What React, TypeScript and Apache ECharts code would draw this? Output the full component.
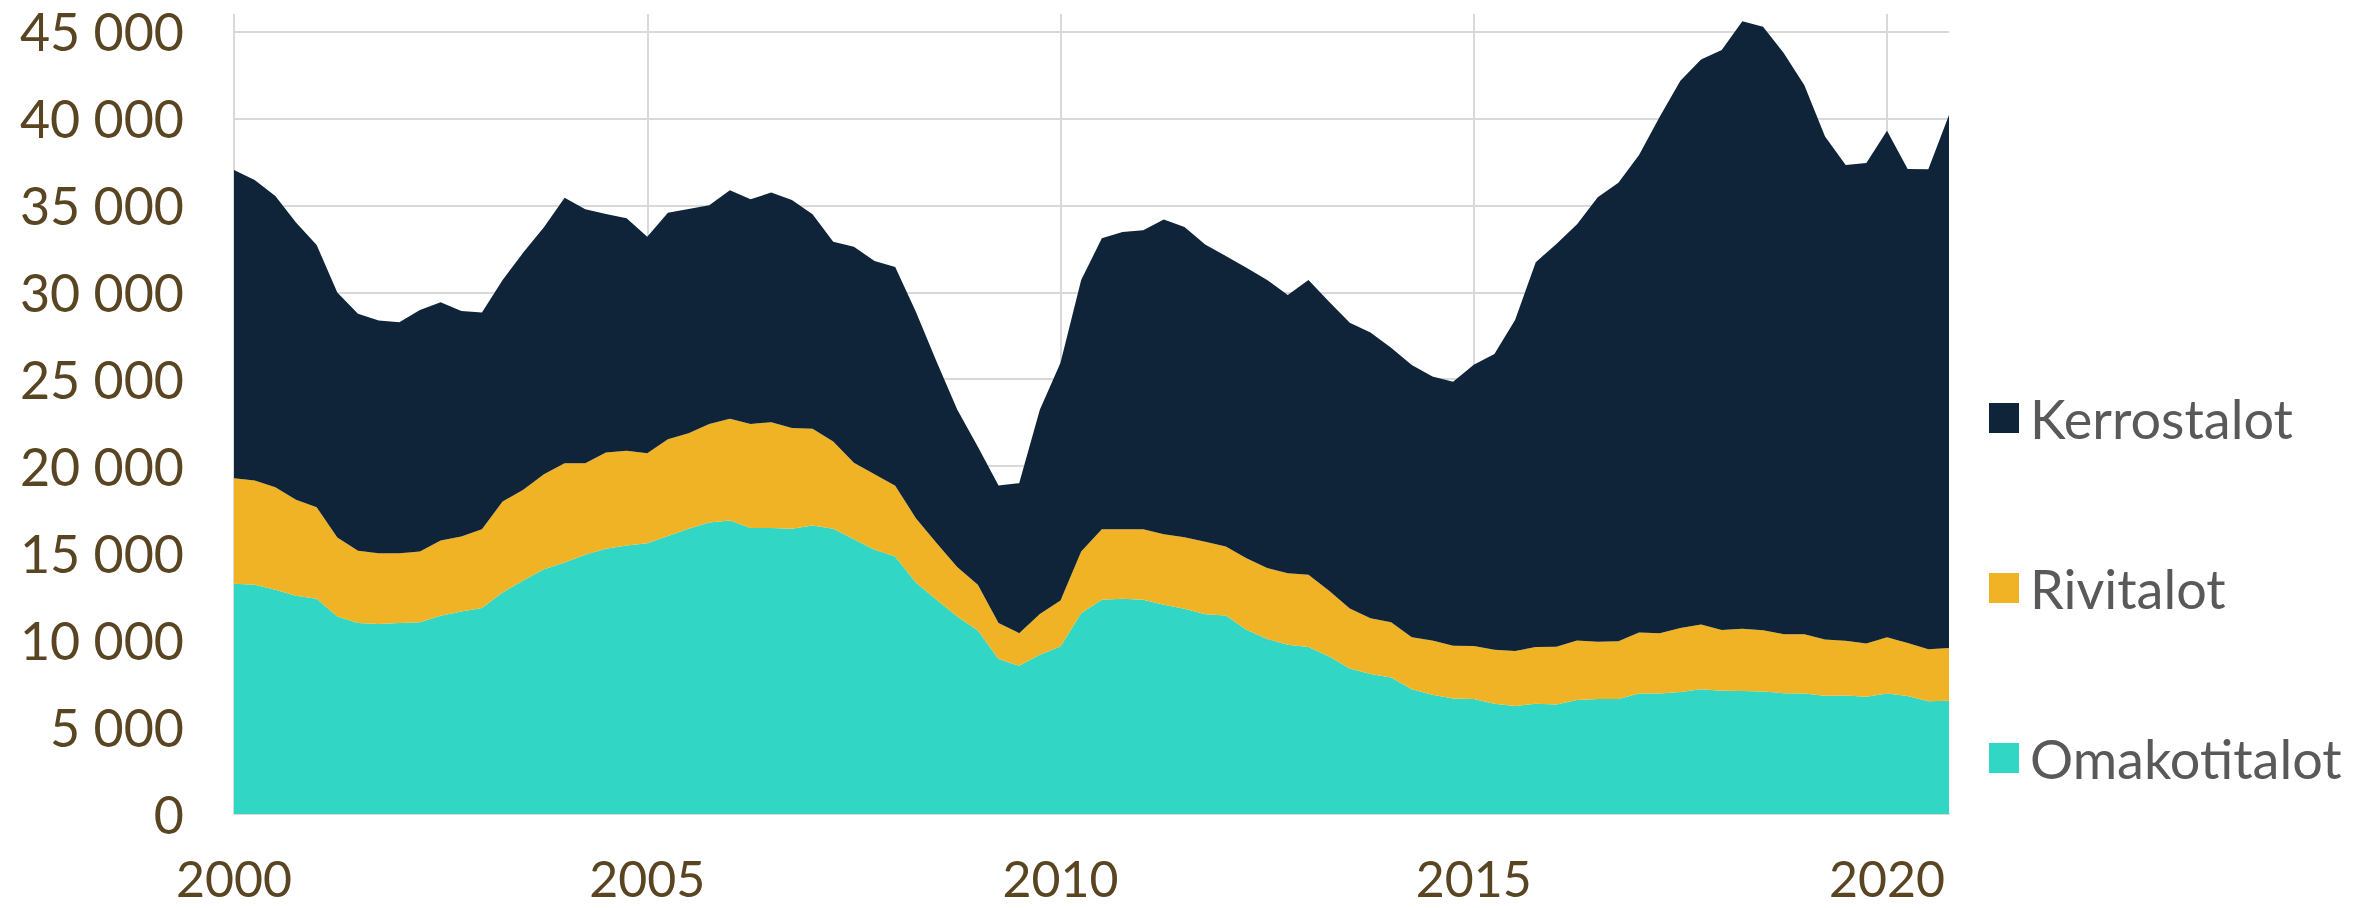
import React, { useEffect, useRef } from "react";
import * as echarts from "echarts";

const quarters: string[] = [
  "2000Q1","2000Q2","2000Q3","2000Q4","2001Q1","2001Q2","2001Q3","2001Q4",
  "2002Q1","2002Q2","2002Q3","2002Q4","2003Q1","2003Q2","2003Q3","2003Q4",
  "2004Q1","2004Q2","2004Q3","2004Q4","2005Q1","2005Q2","2005Q3","2005Q4",
  "2006Q1","2006Q2","2006Q3","2006Q4","2007Q1","2007Q2","2007Q3","2007Q4",
  "2008Q1","2008Q2","2008Q3","2008Q4","2009Q1","2009Q2","2009Q3","2009Q4",
  "2010Q1","2010Q2","2010Q3","2010Q4","2011Q1","2011Q2","2011Q3","2011Q4",
  "2012Q1","2012Q2","2012Q3","2012Q4","2013Q1","2013Q2","2013Q3","2013Q4",
  "2014Q1","2014Q2","2014Q3","2014Q4","2015Q1","2015Q2","2015Q3","2015Q4",
  "2016Q1","2016Q2","2016Q3","2016Q4","2017Q1","2017Q2","2017Q3","2017Q4",
  "2018Q1","2018Q2","2018Q3","2018Q4","2019Q1","2019Q2","2019Q3","2019Q4",
  "2020Q1","2020Q2","2020Q3","2020Q4",
];

const omakotitalot: number[] = [
  13240, 13180, 12890, 12550, 12370, 11360, 10980, 10920, 10980, 11030, 11400, 11640,
  11840, 12740, 13430, 14080, 14460, 14900, 15250, 15440, 15570, 15990, 16400, 16760,
  16870, 16440, 16440, 16400, 16590, 16400, 15800, 15190, 14800, 13310, 12320, 11360,
  10550, 8910, 8520, 9160, 9630, 11550, 12320, 12370, 12320, 12030, 11800, 11490,
  11410, 10590, 10060, 9730, 9600, 9060, 8360, 8050, 7850, 7180, 6860, 6640,
  6610, 6340, 6210, 6340, 6300, 6550, 6610, 6610, 6930, 6930, 7010, 7180,
  7090, 7070, 7050, 6950, 6930, 6800, 6820, 6740, 6930, 6780, 6490, 6510,
];

const rivitalot: number[] = [
  6070, 5990, 5900, 5520, 5270, 4540, 4160, 4080, 4020, 4060, 4330, 4310,
  4540, 5230, 5210, 5460, 5710, 5270, 5530, 5440, 5170, 5560, 5500, 5660,
  5850, 5990, 6090, 5790, 5560, 5020, 4400, 4350, 4080, 3700, 3260, 2840,
  2630, 2070, 1880, 2340, 2640, 3540, 4060, 4010, 4060, 4060, 4120, 4170,
  3970, 4120, 4080, 4120, 4160, 3780, 3450, 3200, 3180, 2990, 3120, 3030,
  3050, 3100, 3160, 3260, 3320, 3430, 3290, 3330, 3510, 3470, 3680, 3710,
  3490, 3580, 3510, 3390, 3410, 3240, 3140, 3060, 3240, 3050, 2990, 3030,
];

const kerrostalot: number[] = [
  17720, 17280, 16740, 15940, 15080, 14080, 13620, 13370, 13280, 13890, 13700, 12970,
  12450, 12740, 13640, 14200, 15260, 14600, 13720, 13370, 12450, 13020, 12890, 12590,
  13140, 12920, 13200, 13120, 12340, 11490, 12410, 12260, 12570, 11870, 10440, 9060,
  7930, 7910, 8620, 11740, 13680, 15610, 16720, 17090, 17180, 18100, 17830, 17090,
  16710, 16700, 16570, 15990, 16950, 16610, 16430, 16440, 15780, 15650, 15170, 15190,
  16170, 17010, 19040, 22130, 23160, 23930, 25560, 26360, 27450, 29690, 31470, 32490,
  33350, 34940, 34710, 33420, 31570, 28910, 27360, 27630, 29120, 27260, 27600, 30650,
];

const seriesNames: string[] = ["Omakotitalot", "Rivitalot", "Kerrostalot"];
const legendOrder: string[] = ["Kerrostalot", "Rivitalot", "Omakotitalot"];
const seriesColors: string[] = ["#31D6C4", "#F0B325", "#0F2438"];

const FONT = "Lato, 'Open Sans', sans-serif";
const LABEL_COLOR = "#5A4522";

function fmt(v: number): string {
  return String(v).replace(/\B(?=(\d{3})+(?!\d))/g, " ");
}

export default function App() {
  const ref = useRef<HTMLDivElement | null>(null);

  useEffect(() => {
    document.body.style.margin = "0";
    if (!ref.current) return;
    const chart = echarts.init(ref.current, null, { renderer: "svg" });
    const values = [omakotitalot, rivitalot, kerrostalot];
    const option: any = {
      animation: false,
      backgroundColor: "#ffffff",
      grid: { left: 234, right: 428, top: 14, bottom: 94, containLabel: false },
      legend: {
        data: legendOrder,
        orient: "vertical",
        left: 1984,
        top: 385,
        itemWidth: 30,
        itemHeight: 30,
        itemGap: 114,
        icon: "rect",
        selectedMode: false,
        textStyle: {
          fontFamily: FONT,
          fontSize: 54,
          lineHeight: 56,
          color: "#595959",
          padding: [0, 0, 0, 6],
        },
      },
      xAxis: {
        type: "category",
        data: quarters,
        boundaryGap: false,
        axisLine: { show: true, lineStyle: { color: "#D9D9D9", width: 2 } },
        axisTick: { show: false },
        axisLabel: {
          interval: (i: number) => i % 20 === 0,
          formatter: (v: string) => v.slice(0, 4),
          fontFamily: FONT,
          fontSize: 50,
          lineHeight: 40,
          color: LABEL_COLOR,
          margin: 44,
        },
        splitLine: {
          show: true,
          interval: (i: number) => i % 20 === 0,
          lineStyle: { color: "#D9D9D9", width: 2 },
        },
      },
      yAxis: {
        type: "value",
        min: 0,
        max: 46000,
        interval: 5000,
        axisLine: { show: false },
        axisTick: { show: false },
        axisLabel: {
          formatter: (v: number) => fmt(v),
          showMaxLabel: false,
          fontFamily: FONT,
          fontSize: 52,
          color: LABEL_COLOR,
          margin: 50,
        },
        splitLine: {
          show: true,
          showMaxLine: false,
          lineStyle: { color: "#D9D9D9", width: 2 },
        },
      },
      series: seriesNames.map((name, k) => ({
        name,
        type: "line",
        stack: "total",
        data: values[k],
        symbol: "none",
        lineStyle: { width: 0 },
        areaStyle: { color: seriesColors[k], opacity: 1 },
        itemStyle: { color: seriesColors[k] },
        emphasis: { disabled: true },
      })),
    };
    chart.setOption(option);
    return () => chart.dispose();
  }, []);

  return <div ref={ref} style={{ width: 2377, height: 908 }} />;
}
